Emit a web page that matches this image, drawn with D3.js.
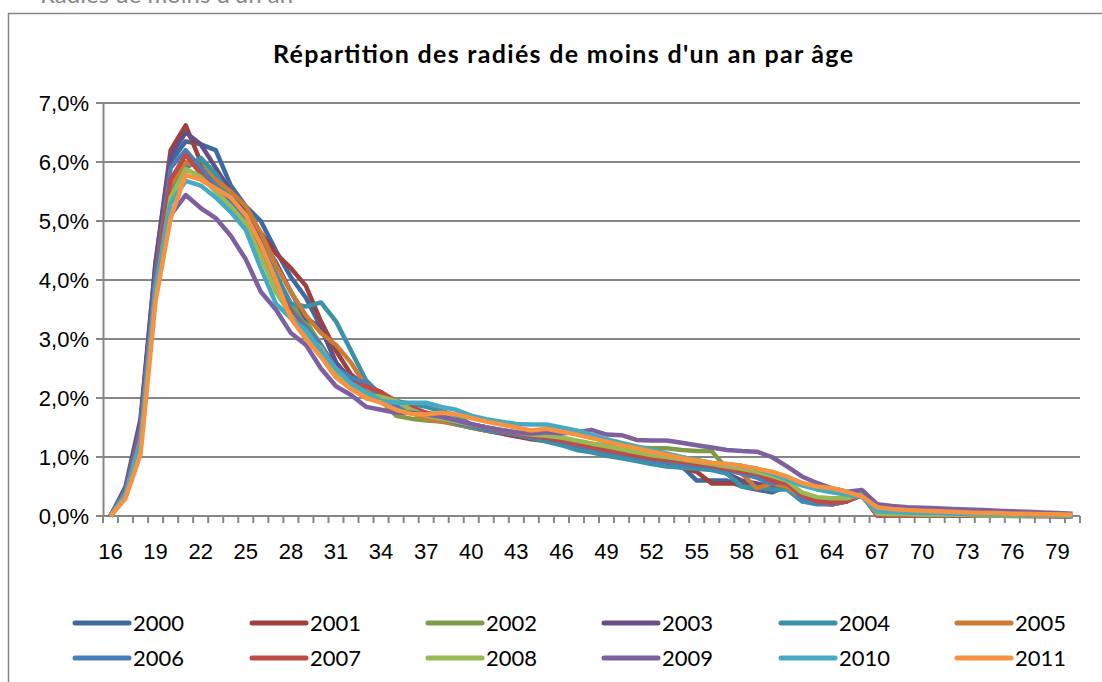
<!DOCTYPE html>
<html>
<head>
<meta charset="utf-8">
<script src="https://cdn.jsdelivr.net/npm/d3@7"></script>
<style>
    body { margin: 0; background: #fff; }
    svg { display: block; font-family: Lato, "Open Sans", sans-serif; }
</style>
</head>
<body>
<svg id="chart" width="1102" height="682"></svg>
<script>
// ages 16 .. 80
var ages = d3.range(16, 81);
var years = ["2000", "2001", "2002", "2003", "2004", "2005",
             "2006", "2007", "2008", "2009", "2010", "2011"];
var colors = ["#3D6AA1", "#A0403D", "#7F9B48", "#664F87", "#3A91A8", "#CC7A34",
              "#4A7EBB", "#BE4B48", "#98B954", "#7D60A0", "#46AAC5", "#F69240"];
var yTicks = [0, 1, 2, 3, 4, 5, 6, 7];
var xLabels = d3.range(16, 81, 3);

// share (%) of the year's radiés, by age
var s2000 = [0, 0.45, 1.6, 4.2, 6.0, 6.35, 6.3, 6.2, 5.6, 5.25,
    5.0, 4.5, 4.05, 3.7, 3.2, 2.6, 2.3, 2.2, 2.0, 1.85,
    1.78, 1.7, 1.62, 1.56, 1.5, 1.45, 1.4, 1.35, 1.32, 1.28,
    1.24, 1.2, 1.15, 1.1, 1.05, 1.0, 0.95, 0.92, 0.85, 0.6,
    0.6, 0.6, 0.5, 0.45, 0.4, 0.5, 0.25, 0.22, 0.22, 0.28, 0.38,
    0.03, 0.03, 0.02, 0.02, 0.02, 0.02, 0.01, 0.01, 0.01, 0.01, 0.01, 0.01, 0.01, 0.0];
var s2001 = [0, 0.42, 1.55, 4.3, 6.2, 6.62, 6.0, 5.75, 5.45, 5.15,
    4.8, 4.45, 4.2, 3.9, 3.3, 2.8, 2.4, 2.2, 2.1, 1.9,
    1.8, 1.7, 1.63, 1.56, 1.5, 1.45, 1.4, 1.35, 1.3, 1.27,
    1.22, 1.18, 1.12, 1.08, 1.03, 0.98, 0.93, 0.88, 0.82, 0.75,
    0.55, 0.55, 0.55, 0.47, 0.45, 0.48, 0.3, 0.22, 0.2, 0.25, 0.35,
    0.01, 0.01, 0.01, 0.01, 0.01, 0.01, 0.01, 0.01, 0.01, 0.0, 0.0, 0.0, 0.0, 0.0];
var s2002 = [0, 0.35, 1.2, 3.9, 5.5, 5.9, 6.05, 5.7, 5.3, 5.0,
    4.5, 3.9, 3.6, 3.3, 2.9, 2.5, 2.2, 2.0, 1.95, 1.7,
    1.65, 1.62, 1.6, 1.55, 1.5, 1.45, 1.42, 1.38, 1.35, 1.32,
    1.3, 1.27, 1.22, 1.2, 1.18, 1.16, 1.15, 1.15, 1.12, 1.1,
    1.1, 0.8, 0.75, 0.7, 0.62, 0.5, 0.35, 0.28, 0.25, 0.28, 0.38,
    0.02, 0.02, 0.02, 0.02, 0.01, 0.01, 0.01, 0.01, 0.01, 0.01, 0.01, 0.01, 0.0, 0.0];
var s2003 = [0, 0.5, 1.65, 4.3, 6.1, 6.5, 6.3, 5.9, 5.5, 5.2,
    4.7, 4.3, 3.8, 3.35, 3.2, 2.6, 2.3, 2.1, 2.0, 1.85,
    1.8, 1.75, 1.7, 1.62, 1.55, 1.5, 1.45, 1.4, 1.35, 1.3,
    1.26, 1.22, 1.18, 1.14, 1.08, 1.03, 0.98, 0.95, 0.9, 0.85,
    0.82, 0.72, 0.6, 0.55, 0.5, 0.5, 0.3, 0.25, 0.22, 0.28, 0.38,
    0.02, 0.02, 0.02, 0.02, 0.01, 0.01, 0.01, 0.01, 0.01, 0.01, 0.01, 0.01, 0.0, 0.0];
var s2004 = [0, 0.4, 1.4, 4.0, 5.5, 5.9, 6.07, 5.8, 5.4, 5.05,
    4.6, 4.1, 3.6, 3.55, 3.62, 3.3, 2.8, 2.3, 2.05, 1.95,
    1.9, 1.85, 1.78, 1.7, 1.55, 1.5, 1.45, 1.38, 1.32, 1.26,
    1.2, 1.12, 1.08, 1.02, 0.98, 0.93, 0.88, 0.84, 0.82, 0.8,
    0.78, 0.72, 0.5, 0.48, 0.45, 0.45, 0.25, 0.2, 0.2, 0.25, 0.38,
    0.02, 0.02, 0.02, 0.01, 0.01, 0.01, 0.01, 0.01, 0.01, 0.01, 0.01, 0.0, 0.0, 0.0];
var s2005 = [0, 0.4, 1.4, 4.0, 5.6, 6.0, 5.9, 5.7, 5.5, 5.25,
    4.8, 4.25, 3.8, 3.4, 3.1, 2.9, 2.6, 2.2, 1.95, 1.8,
    1.75, 1.65, 1.6, 1.57, 1.52, 1.48, 1.43, 1.4, 1.36, 1.32,
    1.28, 1.24, 1.18, 1.13, 1.08, 1.03, 0.98, 0.95, 0.92, 0.88,
    0.85, 0.8, 0.72, 0.47, 0.55, 0.5, 0.3, 0.22, 0.2, 0.25, 0.38,
    0.02, 0.02, 0.02, 0.02, 0.01, 0.01, 0.01, 0.01, 0.01, 0.01, 0.01, 0.01, 0.0, 0.0];
var s2006 = [0, 0.45, 1.5, 4.1, 5.9, 6.2, 5.9, 5.6, 5.35, 5.05,
    4.6, 4.0, 3.5, 3.2, 2.9, 2.5, 2.35, 2.25, 2.0, 1.85,
    1.8, 1.72, 1.65, 1.58, 1.52, 1.46, 1.42, 1.38, 1.34, 1.3,
    1.26, 1.2, 1.15, 1.1, 1.05, 1.0, 0.95, 0.92, 0.88, 0.85,
    0.82, 0.78, 0.72, 0.65, 0.55, 0.6, 0.28, 0.22, 0.2, 0.25, 0.38,
    0.02, 0.02, 0.02, 0.02, 0.01, 0.01, 0.01, 0.01, 0.01, 0.01, 0.01, 0.01, 0.0, 0.0];
var s2007 = [0, 0.42, 1.45, 4.0, 5.7, 6.12, 5.8, 5.5, 5.25, 4.95,
    4.5, 3.9, 3.45, 3.1, 2.75, 2.45, 2.25, 2.2, 2.1, 1.95,
    1.85, 1.75, 1.66, 1.6, 1.55, 1.5, 1.45, 1.4, 1.36, 1.32,
    1.28, 1.22, 1.17, 1.12, 1.07, 1.02, 0.98, 0.95, 0.92, 0.88,
    0.85, 0.8, 0.75, 0.72, 0.6, 0.55, 0.35, 0.25, 0.22, 0.25, 0.38,
    0.01, 0.01, 0.01, 0.01, 0.01, 0.01, 0.01, 0.01, 0.01, 0.01, 0.0, 0.0, 0.0, 0.0];
var s2008 = [0, 0.35, 1.2, 3.8, 5.4, 5.88, 5.75, 5.5, 5.25, 4.95,
    4.4, 3.8, 3.4, 3.05, 2.85, 2.45, 2.2, 2.05, 2.02, 1.95,
    1.8, 1.7, 1.65, 1.6, 1.55, 1.5, 1.46, 1.42, 1.38, 1.36,
    1.33, 1.28, 1.23, 1.18, 1.13, 1.08, 1.03, 1.0, 0.96, 0.92,
    0.88, 0.84, 0.8, 0.75, 0.68, 0.6, 0.4, 0.32, 0.3, 0.3, 0.38,
    0.04, 0.03, 0.03, 0.02, 0.02, 0.02, 0.02, 0.01, 0.01, 0.01, 0.01, 0.01, 0.01, 0.0];
var s2009 = [0, 0.4, 1.35, 4.0, 5.1, 5.44, 5.22, 5.05, 4.75, 4.35,
    3.8, 3.5, 3.1, 2.9, 2.5, 2.2, 2.05, 1.85, 1.8, 1.75,
    1.75, 1.72, 1.68, 1.62, 1.56, 1.5, 1.46, 1.42, 1.4, 1.42,
    1.4, 1.42, 1.46, 1.38, 1.37, 1.29, 1.28, 1.28, 1.24, 1.2,
    1.16, 1.12, 1.1, 1.09, 1.0, 0.84, 0.67, 0.56, 0.47, 0.41, 0.44,
    0.2, 0.17, 0.15, 0.14, 0.13, 0.12, 0.11, 0.1, 0.09, 0.08, 0.07, 0.06, 0.05, 0.04];
var s2010 = [0, 0.38, 1.3, 3.9, 5.3, 5.68, 5.6, 5.4, 5.15, 4.85,
    4.2, 3.6, 3.35, 3.15, 2.8, 2.5, 2.25, 2.1, 1.95, 1.92,
    1.92, 1.92, 1.85, 1.8, 1.7, 1.64, 1.6, 1.56, 1.55, 1.55,
    1.5, 1.45, 1.38, 1.3, 1.24, 1.18, 1.12, 1.06, 1.0, 0.95,
    0.9, 0.88, 0.85, 0.8, 0.72, 0.62, 0.52, 0.45, 0.4, 0.36, 0.32,
    0.08, 0.07, 0.06, 0.05, 0.05, 0.04, 0.04, 0.03, 0.03, 0.03, 0.02, 0.02, 0.02, 0.01];
var s2011 = [0, 0.3, 1.05, 3.65, 5.05, 5.78, 5.7, 5.55, 5.4, 5.1,
    4.6, 4.0, 3.35, 3.0, 2.7, 2.35, 2.15, 2.0, 1.92, 1.8,
    1.73, 1.72, 1.75, 1.72, 1.66, 1.6, 1.55, 1.5, 1.45, 1.48,
    1.43, 1.38, 1.32, 1.26, 1.2, 1.15, 1.09, 1.04, 0.98, 0.94,
    0.9, 0.88, 0.85, 0.8, 0.75, 0.67, 0.56, 0.5, 0.47, 0.41, 0.33,
    0.15, 0.12, 0.1, 0.09, 0.08, 0.07, 0.06, 0.05, 0.05, 0.04, 0.04, 0.03, 0.03, 0.02];

var series = [s2000, s2001, s2002, s2003, s2004, s2005,
              s2006, s2007, s2008, s2009, s2010, s2011];

var svg = d3.select("#chart");
var axisGrey = "#868686";

// top text, cut by the window edge like in the original
svg.append("text")
    .attr("x", 40)
    .attr("y", 3)
    .style("font-size", "24px")
    .style("fill", "#888")
    .text("Radiés de moins d'un an");

// chart frame (runs off the right and bottom of the picture)
svg.append("rect")
    .attr("x", 8.5)
    .attr("y", 13.5)
    .attr("width", 1200)
    .attr("height", 800)
    .style("fill", "none")
    .style("stroke", axisGrey)
    .style("stroke-width", 1.5);

svg.append("text")
    .attr("x", 563)
    .attr("y", 63)
    .attr("text-anchor", "middle")
    .attr("textLength", 580)
    .attr("lengthAdjust", "spacing")
    .style("font-size", "25px")
    .style("font-weight", "bold")
    .text("Répartition des radiés de moins d'un an par âge");

// scales
var x = d3.scaleBand()
    .domain(ages)
    .range([103, 1080]);
var y = d3.scaleLinear()
    .domain([0, 7])
    .range([516, 103]);

// gridlines
svg.append("g")
    .selectAll("line")
    .data(yTicks)
    .enter()
    .append("line")
    .attr("x1", 96)
    .attr("x2", 1080)
    .attr("y1", function (d) { return y(d); })
    .attr("y2", function (d) { return y(d); })
    .style("stroke", axisGrey)
    .style("stroke-width", 2);

// y axis
var yAxis = d3.axisLeft(y)
    .tickValues(yTicks)
    .tickSize(0)
    .tickPadding(14)
    .tickFormat(function (d) { return d.toFixed(1).replace(".", ",") + "%"; });
var yG = svg.append("g")
    .attr("transform", "translate(103,0)")
    .call(yAxis);
yG.select(".domain").style("stroke", axisGrey).style("stroke-width", 2);
yG.selectAll("text").style("font-size", "22px").style("fill", "#000").attr("font-family", null);

// x axis: ticks between categories, labels every 3 years of age
var xG = svg.append("g");
xG.append("line")
    .attr("x1", 103)
    .attr("x2", 1080)
    .attr("y1", y(0))
    .attr("y2", y(0))
    .style("stroke", axisGrey)
    .style("stroke-width", 2);
xG.selectAll(".tk")
    .data(ages.concat([81]))
    .enter()
    .append("line")
    .attr("class", "tk")
    .attr("x1", function (d) { return d === 81 ? 1080 : x(d); })
    .attr("x2", function (d) { return d === 81 ? 1080 : x(d); })
    .attr("y1", y(0))
    .attr("y2", y(0) + 7)
    .style("stroke", axisGrey)
    .style("stroke-width", 2);
var xAxis = d3.axisBottom(x)
    .tickValues(xLabels)
    .tickSize(0)
    .tickPadding(27);
var xL = svg.append("g")
    .attr("transform", "translate(0," + y(0) + ")")
    .call(xAxis);
xL.select(".domain").remove();
xL.selectAll("text").style("font-size", "22px").style("fill", "#000").attr("font-family", null);

// the lines
var line = d3.line()
    .x(function (d, i) { return x(ages[i]) + x.bandwidth() / 2; })
    .y(function (d) { return y(d); });

svg.append("g")
    .selectAll("path")
    .data(series)
    .enter()
    .append("path")
    .attr("d", line)
    .style("fill", "none")
    .style("stroke", function (d, i) { return colors[i]; })
    .style("stroke-width", 4.5)
    .style("stroke-linejoin", "round");

// legend, 6 columns x 2 rows
var legX = [75, 252, 428, 604, 781, 957];
var legY = [623, 658];
var leg = svg.append("g")
    .selectAll("g")
    .data(years)
    .enter()
    .append("g")
    .attr("transform", function (d, i) {
        return "translate(" + legX[i % 6] + "," + legY[Math.floor(i / 6)] + ")";
    });
leg.append("line")
    .attr("x1", 0)
    .attr("x2", 54)
    .style("stroke", function (d, i) { return colors[i]; })
    .style("stroke-width", 5)
    .style("stroke-linecap", "round");
leg.append("text")
    .attr("x", 58)
    .attr("dy", "0.35em")
    .style("font-size", "22px")
    .text(function (d) { return d; });
</script>
</body>
</html>
